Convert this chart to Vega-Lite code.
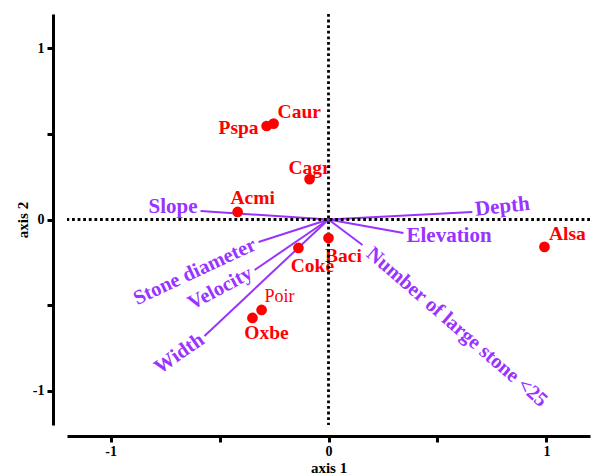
{
  "$schema": "https://vega.github.io/schema/vega-lite/v6.json",
  "autosize": "none",
  "width": 523,
  "height": 411,
  "padding": {"left": 67, "top": 14, "right": 2, "bottom": 49},
  "background": "white",
  "config": {
    "view": {"stroke": null},
    "axis": {"grid": false, "domainColor": "black", "domainWidth": 3, "tickColor": "black", "tickWidth": 3, "tickSize": 6, "labelFont": "Liberation Serif", "labelFontWeight": "bold", "labelFontSize": 14, "labelColor": "black", "titleFont": "Liberation Serif", "titleFontWeight": "bold", "titleFontSize": 15, "titleColor": "black"},
    "text": {"font": "Liberation Serif", "fontWeight": "bold"}
  },
  "datasets": {
    "points": [
      {"name": "Caur", "x": -0.252, "y": 0.56},
      {"name": "Pspa", "x": -0.284, "y": 0.546},
      {"name": "Cagr", "x": -0.087, "y": 0.236},
      {"name": "Acmi", "x": -0.417, "y": 0.044},
      {"name": "Coke", "x": -0.138, "y": -0.166},
      {"name": "Baci", "x": 0.0, "y": -0.108},
      {"name": "Poir", "x": -0.307, "y": -0.528},
      {"name": "Oxbe", "x": -0.349, "y": -0.575},
      {"name": "Alsa", "x": 0.991, "y": -0.16}
    ],
    "vectors": [
      {"name": "Slope", "x": -0.587, "y": 0.05},
      {"name": "Depth", "x": 0.66, "y": 0.044},
      {"name": "Elevation", "x": 0.344, "y": -0.079},
      {"name": "Number of large stone <25", "x": 0.156, "y": -0.149},
      {"name": "Stone diameter", "x": -0.321, "y": -0.131},
      {"name": "Velocity", "x": -0.339, "y": -0.295},
      {"name": "Width", "x": -0.569, "y": -0.68}
    ]
  },
  "layer": [
    {
      "data": {"name": "vectors"},
      "mark": {"type": "rule", "color": "#9933ff", "strokeWidth": 2},
      "encoding": {
        "x": {"field": "x", "type": "quantitative", "scale": {"domain": [-1.2, 1.2], "nice": false, "zero": false},
          "axis": {"values": [-1, -0.5, 0, 0.5, 1], "offset": 11, "title": "axis 1", "labelPadding": 2, "titleY": 31, "titleBaseline": "middle",
            "labelExpr": "datum.value == 1 ? '1' : datum.value == 0 ? '0' : datum.value == -1 ? '-1' : ''"}},
        "y": {"field": "y", "type": "quantitative", "scale": {"domain": [-1.2, 1.2], "nice": false, "zero": false},
          "axis": {"values": [-1, -0.5, 0, 0.5, 1], "offset": 14, "title": "axis 2", "labelPadding": 3, "titleX": -31, "titleBaseline": "middle",
            "labelExpr": "datum.value == 1 ? '1' : datum.value == 0 ? '0' : datum.value == -1 ? '-1' : ''"}},
        "x2": {"datum": 0},
        "y2": {"datum": 0}
      }
    },
    {"data": {"name": "points"}, "transform": [{"filter": "datum.name == 'Caur'"}], "mark": {"type": "text", "color": "#ff0000", "fontSize": 19.5, "align": "left", "baseline": "middle", "dx": 4, "dy": -12}, "encoding": {"x": {"field": "x", "type": "quantitative"}, "y": {"field": "y", "type": "quantitative"}, "text": {"field": "name"}}},
    {"data": {"name": "points"}, "transform": [{"filter": "datum.name == 'Pspa'"}], "mark": {"type": "text", "color": "#ff0000", "fontSize": 19.5, "align": "right", "baseline": "middle", "dx": -8, "dy": 2}, "encoding": {"x": {"field": "x", "type": "quantitative"}, "y": {"field": "y", "type": "quantitative"}, "text": {"field": "name"}}},
    {"data": {"name": "points"}, "transform": [{"filter": "datum.name == 'Cagr'"}], "mark": {"type": "text", "color": "#ff0000", "fontSize": 19.5, "align": "center", "baseline": "middle", "dx": 0, "dy": -11}, "encoding": {"x": {"field": "x", "type": "quantitative"}, "y": {"field": "y", "type": "quantitative"}, "text": {"field": "name"}}},
    {"data": {"name": "points"}, "transform": [{"filter": "datum.name == 'Acmi'"}], "mark": {"type": "text", "color": "#ff0000", "fontSize": 19.5, "align": "center", "baseline": "middle", "dx": 15, "dy": -14}, "encoding": {"x": {"field": "x", "type": "quantitative"}, "y": {"field": "y", "type": "quantitative"}, "text": {"field": "name"}}},
    {"data": {"name": "points"}, "transform": [{"filter": "datum.name == 'Coke'"}], "mark": {"type": "text", "color": "#ff0000", "fontSize": 19.5, "align": "center", "baseline": "middle", "dx": 14, "dy": 18}, "encoding": {"x": {"field": "x", "type": "quantitative"}, "y": {"field": "y", "type": "quantitative"}, "text": {"field": "name"}}},
    {"data": {"name": "points"}, "transform": [{"filter": "datum.name == 'Baci'"}], "mark": {"type": "text", "color": "#ff0000", "fontSize": 19.5, "align": "center", "baseline": "middle", "dx": 15, "dy": 18}, "encoding": {"x": {"field": "x", "type": "quantitative"}, "y": {"field": "y", "type": "quantitative"}, "text": {"field": "name"}}},
    {"data": {"name": "points"}, "transform": [{"filter": "datum.name == 'Poir'"}], "mark": {"type": "text", "color": "#ff0000", "fontSize": 18, "fontWeight": "normal", "align": "center", "baseline": "middle", "dx": 18, "dy": -13}, "encoding": {"x": {"field": "x", "type": "quantitative"}, "y": {"field": "y", "type": "quantitative"}, "text": {"field": "name"}}},
    {"data": {"name": "points"}, "transform": [{"filter": "datum.name == 'Oxbe'"}], "mark": {"type": "text", "color": "#ff0000", "fontSize": 19.5, "align": "center", "baseline": "middle", "dx": 14, "dy": 15}, "encoding": {"x": {"field": "x", "type": "quantitative"}, "y": {"field": "y", "type": "quantitative"}, "text": {"field": "name"}}},
    {"data": {"name": "points"}, "transform": [{"filter": "datum.name == 'Alsa'"}], "mark": {"type": "text", "color": "#ff0000", "fontSize": 19.5, "align": "center", "baseline": "middle", "dx": 23, "dy": -13}, "encoding": {"x": {"field": "x", "type": "quantitative"}, "y": {"field": "y", "type": "quantitative"}, "text": {"field": "name"}}},
    {
      "data": {"values": [{"v": 0}]},
      "mark": {"type": "rule", "color": "black", "strokeWidth": 2.8, "strokeDash": [2.8, 2.8]},
      "encoding": {"x": {"field": "v", "type": "quantitative"}}
    },
    {
      "data": {"values": [{"v": 0}]},
      "mark": {"type": "rule", "color": "black", "strokeWidth": 2.8, "strokeDash": [2.8, 2.8]},
      "encoding": {"y": {"field": "v", "type": "quantitative"}}
    },
    {
      "data": {"name": "points"},
      "mark": {"type": "circle", "color": "#ff0000", "opacity": 1, "size": 115},
      "encoding": {"x": {"field": "x", "type": "quantitative"}, "y": {"field": "y", "type": "quantitative"}}
    },
    {"data": {"name": "vectors"}, "transform": [{"filter": "datum.name == 'Slope'"}], "mark": {"type": "text", "color": "#9933ff", "fontSize": 21, "align": "right", "baseline": "middle", "dx": -3, "dy": -4}, "encoding": {"x": {"field": "x", "type": "quantitative"}, "y": {"field": "y", "type": "quantitative"}, "text": {"field": "name"}}},
    {"data": {"name": "vectors"}, "transform": [{"filter": "datum.name == 'Depth'"}], "mark": {"type": "text", "color": "#9933ff", "fontSize": 21, "align": "left", "baseline": "middle", "angle": 354, "dx": 3, "dy": -2}, "encoding": {"x": {"field": "x", "type": "quantitative"}, "y": {"field": "y", "type": "quantitative"}, "text": {"field": "name"}}},
    {"data": {"name": "vectors"}, "transform": [{"filter": "datum.name == 'Elevation'"}], "mark": {"type": "text", "color": "#9933ff", "fontSize": 21, "align": "left", "baseline": "middle", "dx": 3, "dy": 3}, "encoding": {"x": {"field": "x", "type": "quantitative"}, "y": {"field": "y", "type": "quantitative"}, "text": {"field": "name"}}},
    {"data": {"name": "vectors"}, "transform": [{"filter": "datum.name == 'Number of large stone <25'"}], "mark": {"type": "text", "color": "#9933ff", "fontSize": 20.5, "align": "left", "baseline": "middle", "angle": 41, "dx": 9, "dy": 0}, "encoding": {"x": {"field": "x", "type": "quantitative"}, "y": {"field": "y", "type": "quantitative"}, "text": {"field": "name"}}},
    {"data": {"name": "vectors"}, "transform": [{"filter": "datum.name == 'Stone diameter'"}], "mark": {"type": "text", "color": "#9933ff", "fontSize": 20.5, "align": "right", "baseline": "middle", "angle": 335, "dx": -4, "dy": 0}, "encoding": {"x": {"field": "x", "type": "quantitative"}, "y": {"field": "y", "type": "quantitative"}, "text": {"field": "name"}}},
    {"data": {"name": "vectors"}, "transform": [{"filter": "datum.name == 'Velocity'"}], "mark": {"type": "text", "color": "#9933ff", "fontSize": 20.5, "align": "right", "baseline": "middle", "angle": 332, "dx": -4, "dy": 0}, "encoding": {"x": {"field": "x", "type": "quantitative"}, "y": {"field": "y", "type": "quantitative"}, "text": {"field": "name"}}},
    {"data": {"name": "vectors"}, "transform": [{"filter": "datum.name == 'Width'"}], "mark": {"type": "text", "color": "#9933ff", "fontSize": 20.5, "align": "right", "baseline": "middle", "angle": 325, "dx": -3, "dy": 0}, "encoding": {"x": {"field": "x", "type": "quantitative"}, "y": {"field": "y", "type": "quantitative"}, "text": {"field": "name"}}}
  ]
}
